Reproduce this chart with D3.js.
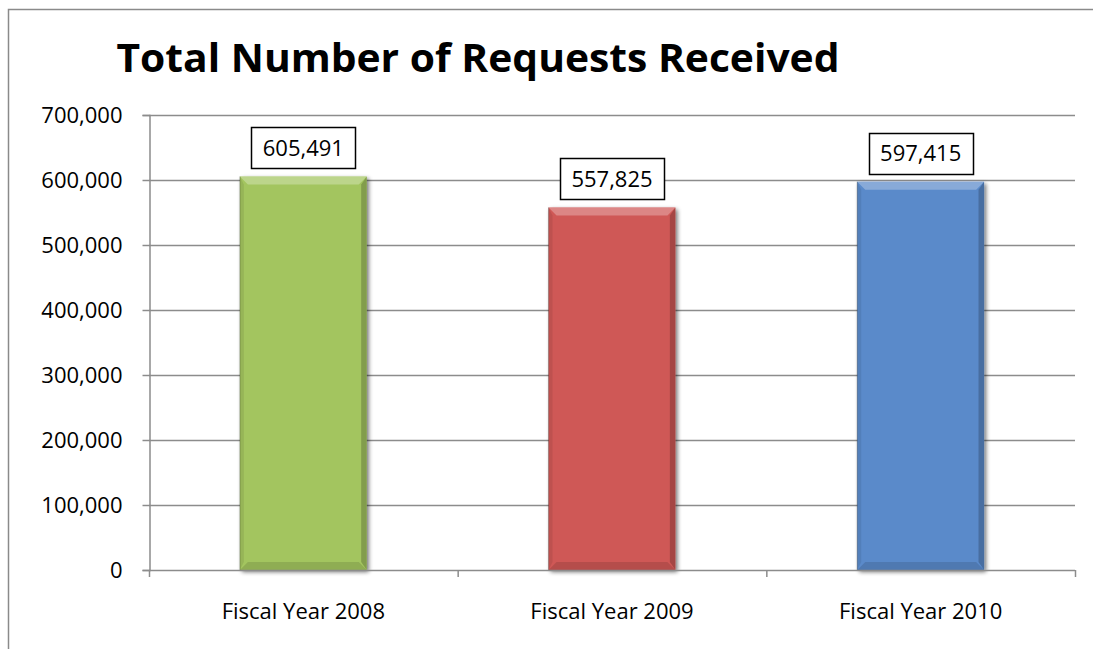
<!DOCTYPE html>
<html>
<head>
<meta charset="utf-8">
<script src="https://cdn.jsdelivr.net/npm/d3@7"></script>
<style>
  html, body { margin: 0; padding: 0; background: #fff; }
  svg { display: block; }
</style>
</head>
<body>
<svg id="chart" width="1093" height="649"></svg>
<script>
const title = "Total Number of Requests Received";
const categories = ["Fiscal Year 2008", "Fiscal Year 2009", "Fiscal Year 2010"];
const values = [605491, 557825, 597415];
const barColors = ["#A3C55F", "#CF5856", "#5A8ACA"];
const yTicks = [0, 100000, 200000, 300000, 400000, 500000, 600000, 700000];

const W = 1093, H = 649;
const svg = d3.select("#chart");
const FONT = "'Open Sans', 'DejaVu Sans', sans-serif";
const GRID = "#8c8c8c";

const plot = { left: 149, right: 1075, top: 115, bottom: 570 };

const y = d3.scaleLinear().domain([0, 700000]).range([plot.bottom, plot.top]);
const x = d3.scaleBand().domain(categories).range([plot.left, plot.right])
  .paddingInner(0.589).paddingOuter(0.2945);

// defs
const defs = svg.append("defs");
const f = defs.append("filter").attr("id", "shadow").attr("x", "-20%").attr("y", "-20%").attr("width", "140%").attr("height", "140%");
f.append("feGaussianBlur").attr("in", "SourceAlpha").attr("stdDeviation", 2.2).attr("result", "b");
f.append("feOffset").attr("in", "b").attr("dx", 2).attr("dy", 2).attr("result", "o");
f.append("feComponentTransfer").attr("in", "o").attr("result", "s")
  .append("feFuncA").attr("type", "linear").attr("slope", 0.55);
const m = f.append("feMerge");
m.append("feMergeNode").attr("in", "s");
m.append("feMergeNode").attr("in", "SourceGraphic");

// outer frame
svg.append("path")
  .attr("d", `M8.5,${H} L8.5,9.5 L${W},9.5`)
  .attr("fill", "none").attr("stroke", "#8a8a8a").attr("stroke-width", 1.5);

// title
const t = svg.append("text")
  .attr("x", 478).attr("y", 72)
  .attr("text-anchor", "middle")
  .attr("font-family", FONT).attr("font-weight", "bold")
  .attr("font-size", 40).attr("fill", "#000")
  .text(title);
t.attr("textLength", 723).attr("lengthAdjust", "spacingAndGlyphs");

// gridlines
svg.append("g").selectAll("line").data(yTicks.filter(d => d > 0)).join("line")
  .attr("x1", plot.left).attr("x2", plot.right)
  .attr("y1", d => Math.round(y(d)) + 0.5).attr("y2", d => Math.round(y(d)) + 0.5)
  .attr("stroke", GRID).attr("stroke-width", 1.5);

// y axis
const yAxis = svg.append("g").attr("transform", `translate(${plot.left + 0.5},0)`)
  .call(d3.axisLeft(y).tickValues(yTicks).tickSize(7).tickPadding(20)
    .tickFormat(d => d3.format(",")(d)));
yAxis.select(".domain").attr("stroke", GRID).attr("stroke-width", 1.5);
yAxis.selectAll(".tick line").attr("stroke", GRID).attr("stroke-width", 1.5);
yAxis.selectAll(".tick text").attr("font-family", FONT).attr("font-size", 22).attr("fill", "#000");

// bars
const step = x.step();
const bw = x.bandwidth();
const bars = svg.append("g").selectAll("g").data(values).join("g");
bars.each(function(v, i) {
  const g = d3.select(this);
  const bx = x(categories[i]);
  const by = y(v);
  const bh = y(0) - by;
  const b = 8;
  g.append("rect").attr("x", bx).attr("y", by).attr("width", bw).attr("height", bh)
    .attr("fill", barColors[i]).attr("filter", "url(#shadow)");
  // top bevel (light)
  g.append("polygon")
    .attr("points", [[bx, by], [bx + bw, by], [bx + bw - b, by + b], [bx + b, by + b]].map(p => p.join(",")).join(" "))
    .attr("fill", "#fff").attr("opacity", 0.28);
  // left bevel
  g.append("polygon")
    .attr("points", [[bx, by], [bx + b * 0.5, by + b], [bx + b * 0.5, by + bh - b], [bx, by + bh]].map(p => p.join(",")).join(" "))
    .attr("fill", "#000").attr("opacity", 0.08);
  // right bevel (dark)
  g.append("polygon")
    .attr("points", [[bx + bw, by], [bx + bw, by + bh], [bx + bw - b * 0.7, by + bh - b], [bx + bw - b * 0.7, by + b]].map(p => p.join(",")).join(" "))
    .attr("fill", "#000").attr("opacity", 0.2);
  // bottom bevel
  g.append("polygon")
    .attr("points", [[bx, by + bh], [bx + bw, by + bh], [bx + bw - b, by + bh - b], [bx + b, by + bh - b]].map(p => p.join(",")).join(" "))
    .attr("fill", "#000").attr("opacity", 0.12);
  g.append("line").attr("x1", bx).attr("x2", bx).attr("y1", by).attr("y2", by + bh)
    .attr("stroke", "#000").attr("stroke-opacity", 0.25).attr("stroke-width", 1);
});

// x axis line and ticks
svg.append("line")
  .attr("x1", plot.left).attr("x2", plot.right)
  .attr("y1", plot.bottom + 0.5).attr("y2", plot.bottom + 0.5)
  .attr("stroke", GRID).attr("stroke-width", 1.5);
svg.append("g").selectAll("line").data(d3.range(categories.length + 1)).join("line")
  .attr("x1", d => plot.left + 0.5 + d * step).attr("x2", d => plot.left + 0.5 + d * step)
  .attr("y1", plot.bottom).attr("y2", plot.bottom + 7)
  .attr("stroke", GRID).attr("stroke-width", 1.5);

// category labels
svg.append("g").selectAll("text").data(categories).join("text")
  .attr("x", d => x(d) + bw / 2).attr("y", 619)
  .attr("text-anchor", "middle")
  .attr("font-family", FONT).attr("font-size", 22).attr("fill", "#000")
  .text(d => d);

// data labels
const labels = svg.append("g").selectAll("g").data(values).join("g");
labels.each(function(v, i) {
  const g = d3.select(this);
  const cx = x(categories[i]) + bw / 2;
  const bottom = y(v) - 8;
  const bh = 41, bwid = 104;
  g.append("rect")
    .attr("x", Math.round(cx - bwid / 2) + 0.5).attr("y", Math.round(bottom - bh) + 0.5)
    .attr("width", bwid).attr("height", bh)
    .attr("fill", "#fff").attr("stroke", "#000").attr("stroke-width", 1.5);
  g.append("text")
    .attr("x", cx).attr("y", bottom - bh / 2)
    .attr("dy", "0.36em")
    .attr("text-anchor", "middle")
    .attr("font-family", FONT).attr("font-size", 22).attr("fill", "#000")
    .text(d3.format(",")(v));
});
</script>
</body>
</html>
